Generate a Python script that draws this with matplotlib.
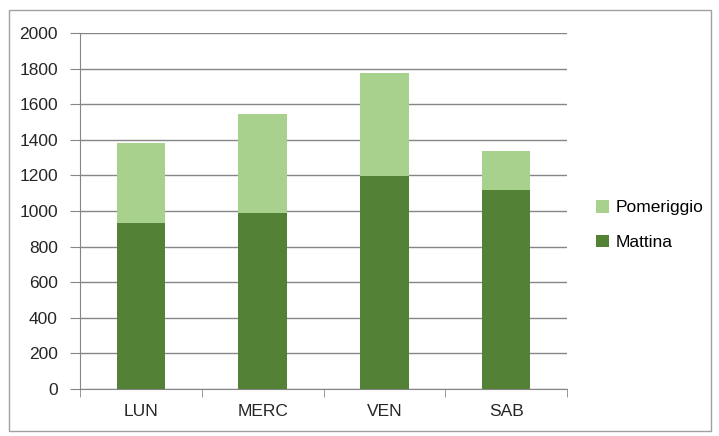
import matplotlib.pyplot as plt
from matplotlib.patches import Rectangle
import numpy as np

days = ['LUN', 'MERC', 'VEN', 'SAB']
mattina = [933, 990, 1198, 1118]
pomeriggio = [449, 555, 577, 219]
yticks = [0, 200, 400, 600, 800, 1000, 1200, 1400, 1600, 1800, 2000]

dark = '#538135'
light = '#a9d18e'
grid_col = '#868686'

plt.rcParams['font.family'] = ['Liberation Sans', 'DejaVu Sans']

fig = plt.figure(figsize=(7.19, 4.36), dpi=100)
ax = fig.add_axes([80 / 719, 47 / 436, 487 / 719, 356 / 436])

x = np.arange(len(days))
ax.bar(x, mattina, width=0.4, color=dark, label='Mattina', zorder=3)
ax.bar(x, pomeriggio, width=0.4, bottom=mattina, color=light, label='Pomeriggio', zorder=3)

ax.set_xlim(-0.5, len(days) - 0.5)
ax.set_ylim(0, 2000)
ax.set_yticks(yticks)
ax.set_yticklabels([str(v) for v in yticks], fontsize=12.5, color='#262626')
ax.set_xticks(x)
ax.set_xticklabels(days, fontsize=12.5, color='#262626')
ax.set_xticks(np.arange(-0.5, len(days), 1), minor=True)
ax.tick_params(axis='x', which='major', length=0, pad=11)
ax.tick_params(axis='x', which='minor', length=6, color=grid_col)
ax.tick_params(axis='y', length=7, color=grid_col, pad=9)
ax.yaxis.grid(True, color=grid_col, linewidth=1)
ax.set_axisbelow(True)
for side in ['top', 'right']:
    ax.spines[side].set_visible(False)
for side in ['left', 'bottom']:
    ax.spines[side].set_color(grid_col)

handles, labels = ax.get_legend_handles_labels()
fig.legend(handles[::-1], labels[::-1], loc='center left', bbox_to_anchor=(580 / 719, 1 - 225 / 436),
           frameon=False, fontsize=12.5, handlelength=0.75, handleheight=0.75,
           handletextpad=0.4, labelspacing=1.1)

fig.patches.append(Rectangle((9 / 719, 5 / 436), 702 / 719, 421 / 436, transform=fig.transFigure,
                             fill=False, edgecolor='#a0a0a0', linewidth=1))

fig.savefig('out.png', dpi=100)
